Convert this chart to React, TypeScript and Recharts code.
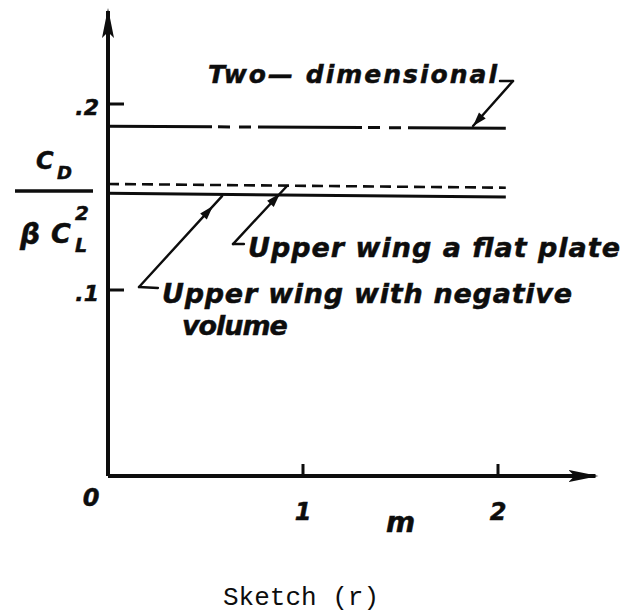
import React from "react";
import {
  ComposedChart,
  Line,
  ReferenceDot,
  ReferenceLine,
  XAxis,
  YAxis,
} from "recharts";

// horizontal curves, C_D / (beta C_L^2) against m
const mPoints = [0, 2.04];
const twoDimensional = [0.188, 0.187];
const flatPlate = [0.157, 0.155];
const negativeVolume = [0.152, 0.15];

const mTicks = [1, 2];
const ratioTicks = [0, 0.1, 0.2];

const data = mPoints.map((m, i) => ({
  m,
  twoDimensional: twoDimensional[i],
  flatPlate: flatPlate[i],
  negativeVolume: negativeVolume[i],
}));

// lettered notes, anchored at the start of their baseline (m, ratio)
const notes = [
  { text: "Two\u2014 dimensional", m: 0.513, v: 0.2113, width: 289, size: 25 },
  { text: "Upper wing a flat plate", m: 0.718, v: 0.1177, width: 372, size: 27 },
  { text: "Upper wing with negative", m: 0.277, v: 0.093, width: 410, size: 27 },
  { text: "volume", m: 0.379, v: 0.0758, width: 106, size: 27 },
];

// leader segments; head = position of the arrow tip along the segment (0 = none)
const leaders = [
  { from: [2.01, 0.2124], to: [2.077, 0.2124], head: 0 },
  { from: [2.077, 0.2124], to: [1.872, 0.1882], head: 1 },
  { from: [0.256, 0.1011], to: [0.159, 0.1016], head: 0 },
  { from: [0.159, 0.1016], to: [0.585, 0.1505], head: 0.89 },
  { from: [0.697, 0.1247], to: [0.641, 0.1247], head: 0 },
  { from: [0.641, 0.1247], to: [0.918, 0.1559], head: 0.87 },
];

const INK = "#0d0d0d";
const LETTERING = {
  fontFamily: '"DejaVu Sans", sans-serif',
  fontWeight: 700,
  fontStyle: "italic",
  fill: INK,
  stroke: INK,
  strokeWidth: 0.5,
} as const;

function Leader(props: any) {
  const { x1, y1, x2, y2, head } = props;
  let arrow = null;
  if (head > 0) {
    const dx = x2 - x1;
    const dy = y2 - y1;
    const len = Math.hypot(dx, dy);
    const ux = dx / len;
    const uy = dy / len;
    const tx = x1 + dx * head;
    const ty = y1 + dy * head;
    const bx = tx - ux * 14;
    const by = ty - uy * 14;
    const pts = [
      [tx, ty],
      [bx - uy * 4.5, by + ux * 4.5],
      [bx + uy * 4.5, by - ux * 4.5],
    ]
      .map((p) => p.join(","))
      .join(" ");
    arrow = <polygon points={pts} fill={INK} />;
  }
  return (
    <g>
      <line x1={x1} y1={y1} x2={x2} y2={y2} stroke={INK} strokeWidth={2.4} strokeLinecap="round" />
      {arrow}
    </g>
  );
}

function RatioTick(props: any) {
  const { x, y, payload } = props;
  const value: number = payload.value;
  if (value === 0) {
    return (
      <text x={x - 17} y={y + 30} textAnchor="middle" fontSize={24} {...LETTERING}>
        0
      </text>
    );
  }
  return (
    <g>
      <line x1={x} x2={x + 16} y1={y} y2={y} stroke={INK} strokeWidth={3} />
      <text x={x - 9} y={y + 11} textAnchor="end" fontSize={22} {...LETTERING}>
        {value.toFixed(1).replace(/^0/, "")}
      </text>
    </g>
  );
}

function MTick(props: any) {
  const { x, y, payload } = props;
  return (
    <g>
      <line x1={x} x2={x} y1={y - 12} y2={y} stroke={INK} strokeWidth={3} />
      <text x={x} y={y + 44} textAnchor="middle" fontSize={24} {...LETTERING}>
        {payload.value}
      </text>
    </g>
  );
}

function MLabel(props: any) {
  const { viewBox } = props;
  const x = viewBox.x + viewBox.width * 0.6;
  return (
    <text x={x} y={viewBox.y + 56} textAnchor="middle" fontSize={28} {...LETTERING}>
      m
    </text>
  );
}

// C_D over beta C_L^2, centred on the fraction bar
function RatioLabel(props: any) {
  const { viewBox } = props;
  const cx = viewBox.x + viewBox.width - 54;
  const cy = viewBox.y + 180;
  return (
    <g>
      <text x={cx - 18} y={cy - 22} fontSize={24} {...LETTERING}>
        C
      </text>
      <text x={cx + 3} y={cy - 12} fontSize={18} {...LETTERING}>
        D
      </text>
      <line x1={cx - 39} x2={cx + 39} y1={cy} y2={cy} stroke={INK} strokeWidth={3.5} />
      <text x={cx - 34} y={cy + 53} fontSize={28} {...LETTERING}>
        {"\u03b2"}
      </text>
      <text x={cx - 3} y={cy + 52} fontSize={27} {...LETTERING}>
        C
      </text>
      <text x={cx + 21} y={cy + 29} fontSize={20} {...LETTERING}>
        2
      </text>
      <text x={cx + 21} y={cy + 61} fontSize={19} {...LETTERING}>
        L
      </text>
    </g>
  );
}

export default function App() {
  return (
    <div style={{ position: "absolute", left: 0, top: 0, width: 628, height: 613, background: "#fff" }}>
      <ComposedChart
        width={628}
        height={613}
        data={data}
        margin={{ top: 11, right: 32.5, bottom: 107, left: 48 }}
      >
        <defs>
          <marker
            id="axisArrow"
            viewBox="0 0 30 14"
            refX={27}
            refY={7}
            markerWidth={30}
            markerHeight={14}
            markerUnits="userSpaceOnUse"
            orient="auto-start-reverse"
          >
            <path d="M0,1 L30,7 L0,13 L6,7 Z" fill={INK} />
          </marker>
        </defs>
        <XAxis
          type="number"
          dataKey="m"
          domain={[0, 2.5]}
          ticks={mTicks}
          interval={0}
          height={30}
          tickSize={0}
          tickMargin={0}
          tickLine={false}
          tick={MTick}
          axisLine={{ stroke: INK, strokeWidth: 4, markerEnd: "url(#axisArrow)" }}
          label={MLabel}
        />
        <YAxis
          type="number"
          domain={[0, 0.25]}
          ticks={ratioTicks}
          interval={0}
          width={60}
          tickSize={0}
          tickMargin={0}
          tickLine={false}
          tick={RatioTick}
          axisLine={{ stroke: INK, strokeWidth: 4, markerStart: "url(#axisArrow)" }}
          label={RatioLabel}
        />
        <Line
          dataKey="twoDimensional"
          type="linear"
          stroke={INK}
          strokeWidth={3}
          strokeDasharray="104 6 12 9 12 7"
          dot={false}
          isAnimationActive={false}
        />
        <Line
          dataKey="flatPlate"
          type="linear"
          stroke={INK}
          strokeWidth={2.6}
          strokeDasharray="11 6"
          dot={false}
          isAnimationActive={false}
        />
        <Line
          dataKey="negativeVolume"
          type="linear"
          stroke={INK}
          strokeWidth={3}
          dot={false}
          isAnimationActive={false}
        />
        {leaders.map((l, i) => (
          <ReferenceLine
            key={`leader-${i}`}
            segment={[
              { x: l.from[0], y: l.from[1] },
              { x: l.to[0], y: l.to[1] },
            ]}
            ifOverflow="visible"
            shape={(p: any) => <Leader {...p} head={l.head} />}
          />
        ))}
        {notes.map((n) => (
          <ReferenceDot
            key={n.text}
            x={n.m}
            y={n.v}
            ifOverflow="visible"
            shape={(p: any) => (
              <text
                x={p.cx}
                y={p.cy}
                textLength={n.width}
                lengthAdjust="spacing"
                fontSize={n.size}
                {...LETTERING}
              >
                {n.text}
              </text>
            )}
          />
        ))}
      </ComposedChart>
      <div
        style={{
          position: "absolute",
          left: 223,
          top: 585,
          fontFamily: '"Liberation Mono", monospace',
          fontSize: 26,
          lineHeight: "26px",
          whiteSpace: "nowrap",
          color: INK,
        }}
      >
        Sketch (r)
      </div>
    </div>
  );
}
